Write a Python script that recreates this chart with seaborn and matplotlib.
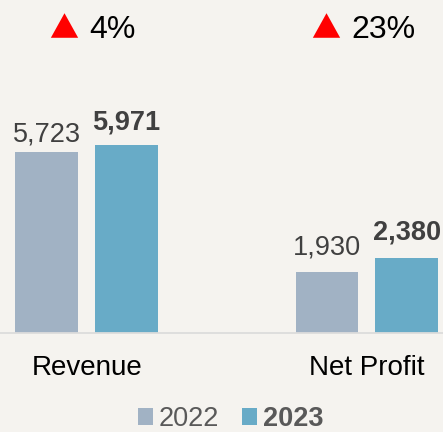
import matplotlib
matplotlib.use("Agg")
import matplotlib.pyplot as plt
import matplotlib.transforms as mtransforms
from matplotlib.patches import Patch
import seaborn as sns
import pandas as pd

# ---- data ----
categories = ["Revenue", "Net Profit"]
years = ["2022", "2023"]
values_2022 = [5723, 1930]
values_2023 = [5971, 2380]

# ---- style ----
BG = "#f5f3ef"
colors = {"2022": "#a1b2c4", "2023": "#68abc7"}
FONT = ["Liberation Sans", "DejaVu Sans"]

sns.set_theme(style="white")
plt.rcParams["font.family"] = FONT

df = pd.DataFrame({
    "category": categories * 2,
    "year": [years[0]] * len(categories) + [years[1]] * len(categories),
    "value": values_2022 + values_2023,
})

fig = plt.figure(figsize=(4.43, 4.32), dpi=100, facecolor=BG)
H = 432.0
base_px = 333.3
ax = fig.add_axes([0, (H - base_px) / H, 1, base_px / H])
ax.set_facecolor(BG)

sns.barplot(data=df, x="category", y="value", hue="year", order=categories,
            hue_order=years, palette=colors, width=0.57, gap=0.214,
            linewidth=0, saturation=1, legend=False, ax=ax)

scale = 0.0316  # px per unit
ax.set_ylim(0, base_px / scale)
ax.set_xlim(-0.3096, 1.272)
ax.set_yticks([])
ax.set_xlabel("")
ax.set_ylabel("")
for s in ["left", "right", "top"]:
    ax.spines[s].set_visible(False)
ax.spines["bottom"].set_color("#dcdcdc")
ax.spines["bottom"].set_linewidth(1.3)
ax.tick_params(axis="x", length=0, pad=15.5, labelsize=20, labelcolor="black")

# value labels (baseline gap above bar, px)
gaps = [[10.5, 15], [18, 19]]
for hi, cont in enumerate(ax.containers):
    for ci, bar in enumerate(cont):
        val = bar.get_height()
        ax.annotate(f"{val:,.0f}", xy=(bar.get_x() + bar.get_width() / 2, val),
                    xytext=(0, gaps[ci][hi] * 0.72), textcoords="offset points",
                    ha="center", va="baseline", fontsize=19.5, color="#404040",
                    fontweight="bold" if hi == 1 else "normal")

# growth indicators
blend = mtransforms.blended_transform_factory(ax.transData, ax.transAxes)
tri_dx = [-22.4, -40.5]
txt_dx = [2.3, -15.1]
tri_verts = [(-1, -0.9), (1, -0.9), (0, 0.9)]
for i in range(len(categories)):
    pct = (values_2023[i] / values_2022[i] - 1) * 100
    tr = mtransforms.offset_copy(blend, fig=fig, x=tri_dx[i], y=-25, units="dots")
    ax.plot([i], [1], marker=tri_verts, ms=27.3 * 0.72, color="#ff0000",
            mec="none", transform=tr, clip_on=False)
    ax.annotate(f"{pct:.0f}%", xy=(i, 1), xycoords=blend,
                xytext=(txt_dx[i] * 0.72, -37.7 * 0.72), textcoords="offset points",
                ha="left", va="baseline", fontsize=23, color="black")

# legend
handles = [Patch(facecolor=colors[y], edgecolor="none", label=y) for y in years]
leg = fig.legend(handles=handles, loc="center", bbox_to_anchor=(231 / 443, 13 / H),
                 ncol=2, frameon=False, fontsize=19.5, handlelength=0.55,
                 handleheight=0.55, handletextpad=0.22, columnspacing=0.85,
                 borderpad=0, borderaxespad=0)
for t in leg.get_texts():
    t.set_color("#595959")
leg.get_texts()[1].set_fontweight("bold")

fig.savefig("out.png", dpi=100, facecolor=BG)
